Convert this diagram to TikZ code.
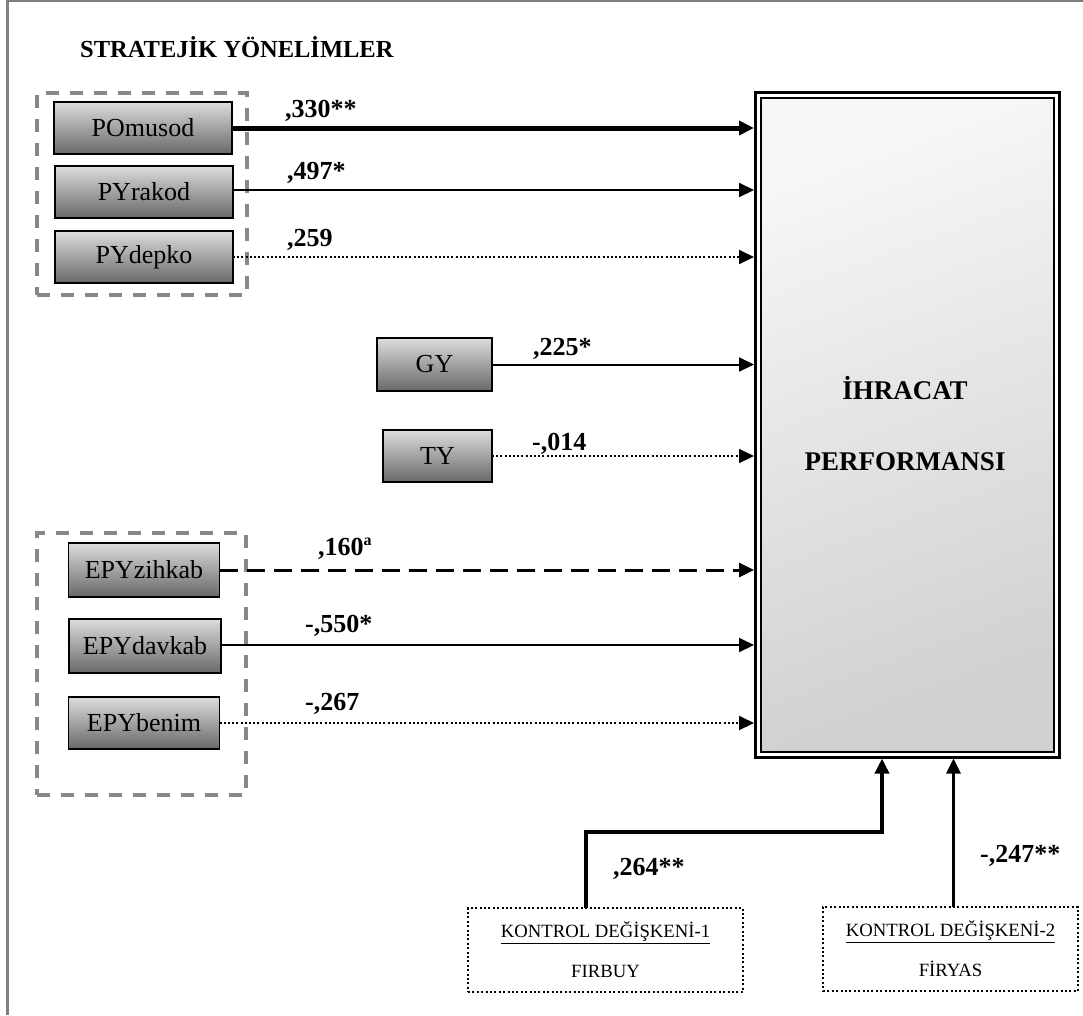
\documentclass[tikz,border=0pt]{standalone}
\usepackage{fontspec}
\setmainfont{Liberation Serif}
\usetikzlibrary{arrows.meta,calc}

\definecolor{boxtop}{HTML}{DCDCDC}
\definecolor{boxbot}{HTML}{686868}
\definecolor{paneltop}{HTML}{F7F7F7}
\definecolor{panelbot}{HTML}{D0D0D0}
\definecolor{framegray}{HTML}{7F7F7F}
\definecolor{groupgray}{HTML}{878787}

\begin{document}
\begin{tikzpicture}[x=1pt,y=-1pt,
  varbox/.style={draw=black, line width=1.8pt, outer sep=0pt, inner sep=0pt,
    top color=boxtop, bottom color=boxbot,
    font=\fontsize{26}{30}\selectfont, minimum height=#1},
  varbox/.default=52pt,
  groupbox/.style={draw=groupgray, line width=3.5pt, dash pattern=on 13pt off 11pt,
    inner sep=0pt, outer sep=0pt},
  ctrlbox/.style={draw=black, line width=2pt, dash pattern=on 2pt off 2.4pt,
    inner sep=0pt, outer sep=0pt, align=center,
    font=\fontsize{18.7}{40}\selectfont, minimum width=275pt, minimum height=84pt},
  lab/.style={font=\bfseries\fontsize{26}{30}\selectfont, inner sep=0pt, anchor=base west},
  arr/.style={-{Triangle[length=15pt,width=14pt]}, line width=2pt, shorten >=1.5pt},
  dotline/.style={dash pattern=on 2pt off 2.2pt},
  dashline/.style={line width=3pt, dash pattern=on 18pt off 9pt},
  riser/.style={-{Triangle[length=15pt,width=14pt]}, line width=3.5pt, shorten >=1.5pt}]

\useasboundingbox (0,0) rectangle (1083,1015);

% page frame (left and top edges)
\draw[framegray, line width=2.5pt] (7.5,1015) -- (7.5,1) -- (1083,1);

% heading
\node[font=\bfseries\fontsize{24.5}{28}\selectfont, anchor=base west, inner sep=0pt]
  (title) at (80,57) {STRATEJİK YÖNELİMLER};

% dashed groups
\node[groupbox, minimum width=210pt, minimum height=202pt] (grp1) at (142,194) {};
\node[groupbox, minimum width=209pt, minimum height=262pt] (grp2) at (141.5,664) {};

% predictor boxes
\node[varbox, minimum width=178pt] (pom) at (143,128) {POmusod};
\node[varbox, minimum width=178pt] (pyr) at (144,192) {PYrakod};
\node[varbox, minimum width=178pt] (pyd) at (144,257) {PYdepko};
\node[varbox=53pt, minimum width=115pt] (gy) at (434.5,364.5) {GY};
\node[varbox, minimum width=109pt] (ty) at (437.5,456) {TY};
\node[varbox=54pt, minimum width=151pt] (ezk) at (144,570) {EPYzihkab};
\node[varbox=54pt, minimum width=152pt] (edk) at (145,646) {EPYdavkab};
\node[varbox, minimum width=151pt] (ebn) at (144,723) {EPYbenim};

% outcome panel with double border
\node[draw=black, line width=3pt, fill=white, outer sep=0pt, inner sep=0pt,
  minimum width=303.5pt, minimum height=665pt] (perf) at (907.25,424.5) {};
\draw[line width=2pt, top color=paneltop, bottom color=panelbot, shading angle=20]
  ([shift={(5.5,5.5)}]perf.north west) rectangle ([shift={(-5.5,-5.5)}]perf.south east);
\node[font=\bfseries\fontsize{27}{30}\selectfont] (perf1) at (905,388) {İHRACAT};
\node[font=\bfseries\fontsize{27}{30}\selectfont] (perf2) at (905,462) {PERFORMANSI};

% paths into the panel
\draw[arr, line width=5pt] (pom) -- (pom -| perf.west);
\draw[arr] (pyr.east |- 0,190) -- (perf.west |- 0,190);
\draw[arr, dotline] (pyd) -- (pyd -| perf.west);
\draw[arr] (gy) -- (gy -| perf.west);
\draw[arr, dotline] (ty) -- (ty -| perf.west);
\draw[arr, dashline] (ezk) -- (ezk -| perf.west);
\draw[arr] (edk.east |- 0,645) -- (perf.west |- 0,645);
\draw[arr, dotline] (ebn) -- (ebn -| perf.west);

% coefficients
\node[lab] (l1) at (285,117) {,330**};
\node[lab] (l2) at (287,179) {,497*};
\node[lab] (l3) at (287,246) {,259};
\node[lab] (l4) at (533,355) {,225*};
\node[lab] (l5) at (532,450) {-,014};
\node[lab] (l6) at (318,555) {,160\raisebox{10pt}{\fontsize{16}{16}\selectfont a}};
\node[lab] (l7) at (305,632) {-,550*};
\node[lab] (l8) at (305,710) {-,267};

% control variables
\node[ctrlbox] (c1) at (605.5,950) {\underline{KONTROL DEĞİŞKENİ-1}\\FIRBUY};
\node[ctrlbox, minimum width=255pt] (c2) at (950.5,949) {\underline{KONTROL DEĞİŞKENİ-2}\\FİRYAS};

\coordinate (bend1) at (586,832);
\coordinate (bend2) at (882,832);
\draw[riser] (c1.north -| bend1) -- (bend1) -- (bend2) -- (bend2 |- perf.south);
\draw[riser, line width=3pt] ([xshift=3pt]c2.north) -- ([xshift=3pt]c2.north |- perf.south);

\node[lab] (l9) at (613,875) {,264**};
\node[lab] (l10) at (980,862) {-,247**};

\end{tikzpicture}
\end{document}
